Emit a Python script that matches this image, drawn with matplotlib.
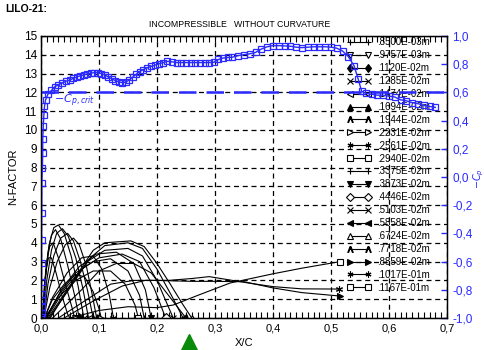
import matplotlib
matplotlib.use("Agg")
import matplotlib.pyplot as plt
import matplotlib.transforms as mtransforms
from matplotlib.ticker import MultipleLocator, FuncFormatter

plt.rcParams['font.family'] = ['Liberation Sans', 'DejaVu Sans']

# ---------------- data ----------------
# -Cp distribution (right axis)
cp_x = [0.000, 0.001, 0.001, 0.001, 0.001, 0.001, 0.001, 0.001, 0.0012, 0.0015,
        0.0025, 0.003, 0.003, 0.004, 0.005, 0.006, 0.008, 0.012, 0.018, 0.024,
        0.030, 0.037, 0.044, 0.050, 0.056, 0.062, 0.068, 0.074, 0.080, 0.086,
        0.092, 0.098, 0.104, 0.110, 0.116, 0.122, 0.128, 0.134, 0.140, 0.146,
        0.152, 0.158, 0.164, 0.170, 0.176, 0.183, 0.190, 0.197, 0.204, 0.211,
        0.218, 0.226, 0.234, 0.242, 0.250, 0.258, 0.266, 0.274, 0.282, 0.290,
        0.298, 0.306, 0.314, 0.322, 0.330, 0.340, 0.350, 0.360, 0.370, 0.380,
        0.390, 0.400, 0.410, 0.420, 0.430, 0.440, 0.450, 0.460, 0.470, 0.480,
        0.490, 0.500, 0.510, 0.520, 0.530, 0.540, 0.547, 0.553, 0.560, 0.570,
        0.580, 0.590, 0.600, 0.610, 0.620, 0.630, 0.640, 0.650, 0.660, 0.670,
        0.680]
cp_neg = [-0.993, -0.967, -0.920, -0.872, -0.827, -0.743, -0.613, -0.447, -0.257, -0.040,
          0.067, 0.173, 0.267, 0.360, 0.440, 0.500, 0.547, 0.587, 0.613, 0.640,
          0.653, 0.667, 0.680, 0.687, 0.700, 0.709, 0.717, 0.724, 0.731, 0.736,
          0.740, 0.740, 0.733, 0.723, 0.709, 0.696, 0.683, 0.675, 0.669, 0.672,
          0.687, 0.707, 0.727, 0.747, 0.760, 0.773, 0.784, 0.793, 0.803, 0.811,
          0.820, 0.816, 0.811, 0.811, 0.811, 0.811, 0.811, 0.811, 0.811, 0.811,
          0.813, 0.833, 0.843, 0.847, 0.849, 0.860, 0.867, 0.873, 0.883, 0.907,
          0.923, 0.931, 0.931, 0.929, 0.927, 0.920, 0.917, 0.920, 0.923, 0.923,
          0.923, 0.920, 0.913, 0.893, 0.853, 0.787, 0.693, 0.607, 0.593, 0.587,
          0.580, 0.580, 0.573, 0.567, 0.547, 0.540, 0.527, 0.520, 0.507, 0.500,
          0.493]
cp_crit = 0.6

# N-factor curves, one per wavelength
labels = ['.8500E-03m', '.9757E-03m', '.1120E-02m', '.1285E-02m', '.1474E-02m',
          '.1694E-02m', '.1944E-02m', '.2231E-02m', '.2561E-02m', '.2940E-02m',
          '.3375E-02m', '.3873E-02m', '.4446E-02m', '.5103E-02m', '.5858E-02m',
          '.6724E-02m', '.7718E-02m', '.8859E-02m', '.1017E-01m', '.1167E-01m']

n_x = [
    [0.003, 0.006, 0.009, 0.013, 0.018, 0.026, 0.036, 0.046, 0.050],
    [0.003, 0.006, 0.010, 0.015, 0.021, 0.030, 0.042, 0.054, 0.058],
    [0.003, 0.007, 0.012, 0.018, 0.025, 0.034, 0.046, 0.058, 0.066],
    [0.004, 0.008, 0.014, 0.022, 0.030, 0.040, 0.052, 0.064, 0.074],
    [0.004, 0.010, 0.018, 0.027, 0.037, 0.047, 0.060, 0.072, 0.082],
    [0.005, 0.012, 0.022, 0.034, 0.046, 0.056, 0.068, 0.080, 0.090],
    [0.005, 0.015, 0.028, 0.042, 0.056, 0.066, 0.078, 0.088, 0.096],
    [0.006, 0.020, 0.040, 0.060, 0.075, 0.090, 0.100, 0.104],
    [0.006, 0.020, 0.045, 0.070, 0.090, 0.105, 0.118, 0.125],
    [0.007, 0.030, 0.060, 0.090, 0.120, 0.145, 0.162, 0.168],
    [0.008, 0.030, 0.060, 0.090, 0.120, 0.150, 0.170, 0.178],
    [0.009, 0.035, 0.065, 0.095, 0.130, 0.160, 0.180, 0.190],
    [0.010, 0.040, 0.070, 0.100, 0.140, 0.170, 0.195, 0.215],
    [0.012, 0.045, 0.080, 0.110, 0.150, 0.175, 0.200, 0.228],
    [0.014, 0.050, 0.085, 0.110, 0.150, 0.175, 0.200, 0.225, 0.245],
    [0.016, 0.060, 0.090, 0.110, 0.155, 0.178, 0.200, 0.222, 0.245, 0.260],
    [0.020, 0.070, 0.100, 0.130, 0.160, 0.190, 0.220, 0.250],
    [0.030, 0.080, 0.120, 0.160, 0.200, 0.260, 0.300, 0.350, 0.400, 0.450, 0.515],
    [0.040, 0.090, 0.140, 0.180, 0.220, 0.260, 0.290, 0.320, 0.360, 0.400, 0.450, 0.514],
    [0.050, 0.100, 0.150, 0.200, 0.228, 0.270, 0.326, 0.400, 0.450, 0.516],
]
n_val = [
    [0.0, 1.6, 2.6, 3.2, 3.2, 2.4, 1.2, 0.2, 0.0],
    [0.0, 1.8, 3.0, 3.8, 4.0, 3.2, 1.8, 0.5, 0.0],
    [0.0, 2.0, 3.5, 4.4, 4.7, 4.2, 2.8, 1.2, 0.0],
    [0.0, 2.2, 3.9, 4.8, 4.95, 4.5, 3.3, 1.7, 0.0],
    [0.0, 2.0, 3.6, 4.5, 4.75, 4.35, 3.2, 1.6, 0.0],
    [0.0, 1.8, 3.3, 4.25, 4.5, 4.1, 3.0, 1.5, 0.0],
    [0.0, 1.6, 3.0, 3.9, 4.25, 3.9, 2.8, 1.3, 0.0],
    [0.0, 1.0, 1.8, 2.3, 2.2, 1.4, 0.5, 0.0],
    [0.0, 1.1, 2.4, 3.2, 3.3, 2.6, 1.2, 0.0],
    [0.0, 1.1, 2.0, 2.5, 2.5, 1.8, 0.7, 0.0],
    [0.0, 1.2, 2.4, 3.0, 3.15, 2.5, 1.2, 0.0],
    [0.0, 1.5, 2.7, 3.4, 3.5, 2.9, 1.5, 0.0],
    [0.0, 1.5, 2.6, 3.2, 3.4, 3.0, 1.6, 0.0],
    [0.0, 1.5, 3.0, 3.6, 3.7, 3.3, 2.0, 0.0],
    [0.0, 1.6, 3.2, 3.85, 4.0, 3.7, 2.6, 1.2, 0.0],
    [0.0, 2.2, 3.6, 4.0, 4.1, 3.8, 2.9, 1.85, 0.7, 0.0],
    [0.0, 1.5, 2.5, 2.9, 2.9, 2.4, 1.2, 0.0],
    [0.0, 1.0, 1.8, 2.0, 2.0, 1.95, 1.95, 1.93, 1.6, 1.35, 1.17],
    [0.0, 0.9, 1.7, 2.0, 2.0, 2.1, 2.2, 2.05, 1.85, 1.67, 1.55, 1.54],
    [0.0, 0.4, 0.6, 0.55, 0.69, 1.2, 1.86, 2.35, 2.65, 3.0],
]

markers = ['+', 'v', 'd', 'x', '<', '^', '$\\Lambda$', '>', (6, 2, 0), 's',
           '+', 'v', 'D', 'x', '<', '^', '$\\Lambda$', '>', (6, 2, 0), 's']
filled = [False, False, True, False, False, True, False, False, False, False,
          False, True, False, False, True, False, False, True, False, False]

x_ticks = [0.0, 0.1, 0.2, 0.3, 0.4, 0.5, 0.6, 0.7]
cp_ticks = [-1.0, -0.8, -0.6, -0.4, -0.2, 0.0, 0.2, 0.4, 0.6, 0.8, 1.0]

# ---------------- figure ----------------
fig = plt.figure(figsize=(4.85, 3.5), dpi=100)
ax = fig.add_axes([0.0845, 0.0914, 0.837, 0.806])
ax2 = ax.twinx()

blue = '#2a2aff'

ax.set_xlim(0, 0.7)
ax.set_ylim(0, 15)
ax2.set_ylim(-1, 1)

ax.set_xticks(x_ticks)
ax.xaxis.set_minor_locator(MultipleLocator(0.01))
ax.yaxis.set_major_locator(MultipleLocator(1))
comma = FuncFormatter(lambda v, p: ('%.1f' % v).replace('.', ','))
ax.xaxis.set_major_formatter(comma)
ax.tick_params(axis='x', which='both', direction='in', top=True, bottom=True,
               length=4, width=0.8, labelsize=8, pad=4, colors='black')
ax.tick_params(axis='y', which='both', direction='in', left=True, right=False,
               length=3, labelsize=8.5, pad=3)

ax2.set_yticks(cp_ticks)
ax2.yaxis.set_major_formatter(comma)
ax2.tick_params(axis='y', direction='in', length=4, width=1, colors=blue,
                labelsize=8.5, pad=4)

ax.grid(True, which='major', color='black', linestyle=(0, (4, 3)), linewidth=0.9)

# N-factor curves
handles = []
for xs, ns, lab, mk, fl in zip(n_x, n_val, labels, markers, filled):
    line, = ax.plot(xs, ns, color='black', linewidth=0.8, marker=mk,
                    markevery=[len(xs) - 1], markersize=5,
                    markerfacecolor='black' if fl else 'white',
                    markeredgecolor='black', markeredgewidth=0.8, label=lab)
    handles.append(line)

# -Cp distribution
ax2.plot(cp_x, cp_neg, color=blue, linewidth=1.0, marker='s', markersize=5,
         markerfacecolor='none', markeredgecolor=blue, markeredgewidth=0.9)
ax2.axhline(cp_crit, color=blue, linewidth=1.8, linestyle=(0, (7, 4)))
ax2.text(0.022, 0.525, '$-C_{p,crit}$', color=blue, fontsize=8)

leg = ax.legend(handles=handles, loc='upper left', bbox_to_anchor=(0.755, 0.995),
                frameon=False, fontsize=7, numpoints=2, handlelength=2.4,
                handletextpad=0.7, labelspacing=0.3, borderpad=0,
                borderaxespad=0, markerscale=0.85)

ax.set_ylabel('N-FACTOR', fontsize=8, labelpad=4)
ax.set_xlabel('X/C', fontsize=8, labelpad=3)
fig.text(0.988, 0.49, '$-C_p$', color=blue, fontsize=7, rotation=90,
         ha='center', va='center')

for sp in ax.spines.values():
    sp.set_linewidth(1.0)

# transition marker under x-axis
trans = mtransforms.blended_transform_factory(ax.transData, ax.transAxes)
ax.plot([0.255], [-0.09], marker='^', color='#0a8a0a', markersize=13,
        transform=trans, clip_on=False)

fig.text(0.495, 0.93, 'INCOMPRESSIBLE   WITHOUT CURVATURE', ha='center',
         va='center', fontsize=6.3)
fig.text(0.01, 0.975, 'LILO-21:', ha='left', va='center', fontsize=7.5,
         fontweight='bold')

fig.savefig('out.png', dpi=100)
